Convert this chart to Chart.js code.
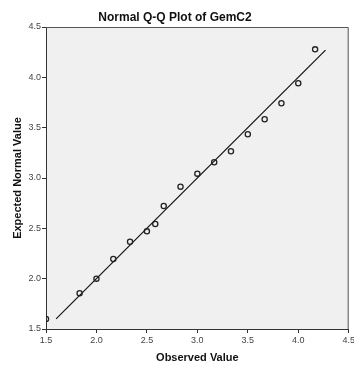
<!DOCTYPE html>
<html>
<head>
<meta charset="utf-8">
<script src="https://cdn.jsdelivr.net/npm/chart.js@4"></script>
<style>
html, body { margin: 0; padding: 0; background: #fff; }
canvas { display: block; }
</style>
</head>
<body>
<canvas id="qqChart" width="354" height="365"></canvas>
<script>
// Observed values (x) and expected normal values (y)
const observed = [1.5, 1.833, 2.0, 2.167, 2.333, 2.5, 2.583, 2.667, 2.833, 3.0, 3.167, 3.333, 3.5, 3.667, 3.833, 4.0, 4.167];
const expected = [1.60, 1.855, 2.0, 2.195, 2.367, 2.47, 2.543, 2.722, 2.914, 3.043, 3.156, 3.265, 3.434, 3.583, 3.742, 3.941, 4.278];
// Reference line (y = x) end points
const refLine = [1.6, 4.27];
const axisTicks = [1.5, 2.0, 2.5, 3.0, 3.5, 4.0, 4.5];

const FONT = 'Arial, "Liberation Sans", sans-serif';

// Grey plot background plus top/right frame lines
const plotFrame = {
    id: 'plotFrame',
    beforeDraw(chart) {
        const { ctx, chartArea: a } = chart;
        ctx.save();
        ctx.fillStyle = '#f0f0f0';
        ctx.fillRect(a.left, a.top, a.right - a.left, a.bottom - a.top);
        ctx.restore();
    },
    afterDraw(chart) {
        const { ctx, chartArea: a } = chart;
        ctx.save();
        ctx.strokeStyle = '#555';
        ctx.lineWidth = 1;
        ctx.beginPath();
        ctx.moveTo(a.left, a.top + 0.5);
        ctx.lineTo(a.right - 0.5, a.top + 0.5);
        ctx.lineTo(a.right - 0.5, a.bottom);
        ctx.stroke();
        ctx.restore();
    }
};

function axisOptions(titleText, isX) {
    return {
        type: 'linear',
        min: 1.5,
        max: 4.5,
        afterBuildTicks: scale => {
            scale.ticks = axisTicks.map(v => ({ value: v }));
        },
        afterFit: scale => {
            if (isX) {
                scale.height = 36;
                scale.paddingLeft = 0;
                scale.paddingRight = 0;
            } else {
                scale.width = 46;
                scale.paddingTop = 0;
                scale.paddingBottom = 0;
            }
        },
        grid: {
            display: true,
            drawOnChartArea: false,
            drawTicks: true,
            tickLength: 4,
            color: '#333'
        },
        border: { display: true, color: '#333', width: 1 },
        ticks: {
            autoSkip: false,
            maxRotation: 0,
            padding: isX ? 2 : 1,
            color: '#444',
            font: { family: FONT, size: 9 },
            callback: v => Number(v).toFixed(1)
        },
        title: {
            display: true,
            text: titleText,
            color: '#111',
            font: { family: FONT, size: 11, weight: 'bold' },
            padding: isX ? { top: 0, bottom: 0 } : { top: 11.5, bottom: 0 }
        }
    };
}

const ctx = document.getElementById('qqChart').getContext('2d');
new Chart(ctx, {
    type: 'scatter',
    data: {
        datasets: [
            {
                label: 'Observed',
                data: observed.map((x, i) => ({ x: x, y: expected[i] })),
                pointStyle: 'circle',
                pointRadius: 2.6,
                pointBorderWidth: 1.3,
                pointBorderColor: '#222',
                pointBackgroundColor: 'rgba(0,0,0,0)',
                clip: 0,
                order: 1
            },
            {
                type: 'line',
                label: 'Reference',
                data: refLine.map(v => ({ x: v, y: v })),
                borderColor: '#111',
                borderWidth: 1.2,
                pointRadius: 0,
                fill: false,
                order: 2
            }
        ]
    },
    options: {
        responsive: false,
        animation: false,
        devicePixelRatio: 1,
        layout: { padding: { left: 0, right: 4, top: 0, bottom: 0 } },
        plugins: {
            legend: { display: false },
            tooltip: { enabled: false },
            title: {
                display: true,
                text: 'Normal Q-Q Plot of GemC2',
                color: '#111',
                font: { family: FONT, size: 12, weight: 'bold' },
                padding: { top: 10, bottom: 2.6 }
            }
        },
        scales: {
            x: axisOptions('Observed Value', true),
            y: axisOptions('Expected Normal Value', false)
        }
    },
    plugins: [plotFrame]
});
</script>
</body>
</html>
